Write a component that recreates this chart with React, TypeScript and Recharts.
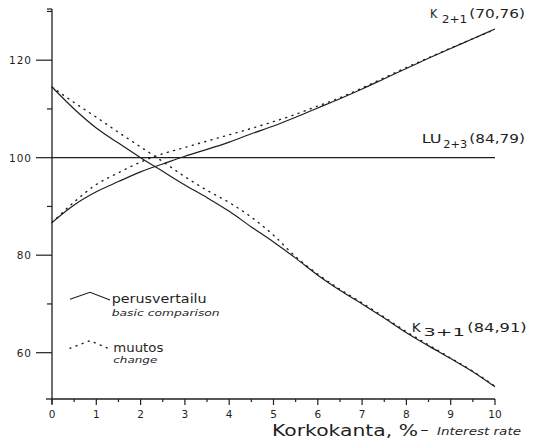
import React from 'react';
import { LineChart, Line, XAxis, YAxis } from 'recharts';

// Interest rate (x) values, %
const interestRates = [0, 0.5, 1, 1.5, 2, 2.5, 3, 3.5, 4, 4.5, 5, 5.5, 6, 6.5, 7, 7.5, 8, 8.5, 9, 9.5, 10];

// K2+1 (70,76)
const k21Basic = [86.7, 90.3, 93.0, 95.1, 97.1, 98.7, 100.3, 101.7, 103.2, 104.9, 106.5, 108.3, 110.2, 112.1, 114.1, 116.2, 118.3, 120.4, 122.4, 124.4, 126.4];
const k21Change = [86.7, 90.9, 94.5, 96.9, 99.1, 100.8, 102.1, 103.4, 104.7, 106.0, 107.4, 108.9, 110.6, 112.3, 114.3, 116.4, 118.5, 120.5, 122.5, 124.4, 126.3];

// K3+1 (84,91)
const k31Basic = [114.5, 110.0, 106.1, 103.0, 100.0, 97.2, 94.4, 91.8, 89.0, 85.8, 82.7, 79.4, 75.9, 72.8, 70.0, 67.1, 64.1, 61.4, 58.8, 56.1, 53.0];
const k31Change = [114.5, 111.3, 108.3, 105.2, 102.2, 99.2, 96.1, 93.3, 90.8, 87.8, 84.1, 79.7, 76.1, 73.0, 70.2, 67.3, 64.3, 61.6, 58.9, 56.2, 53.1];

// LU2+3 (84,79)
const lu23 = [100, 100, 100, 100, 100, 100, 100, 100, 100, 100, 100, 100, 100, 100, 100, 100, 100, 100, 100, 100, 100];

const xTicks = [0, 0.5, 1, 1.5, 2, 2.5, 3, 3.5, 4, 4.5, 5, 5.5, 6, 6.5, 7, 7.5, 8, 8.5, 9, 9.5, 10];
const yTicks = [60, 70, 80, 90, 100, 110, 120, 130];
const yLabelled = [60, 80, 100, 120];

const data = interestRates.map((x, i) => ({
  x,
  k21Basic: k21Basic[i],
  k21Change: k21Change[i],
  k31Basic: k31Basic[i],
  k31Change: k31Change[i],
  lu23: lu23[i],
}));

const INK = '#1f1f1f';
const FONT = '"DejaVu Sans", Verdana, sans-serif';

const YTick = (props: any) => {
  const { x, y, payload } = props;
  const v = payload.value;
  const major = yLabelled.includes(v);
  return (
    <g>
      <line x1={x - (major ? 16 : 5)} x2={x} y1={y} y2={y} stroke={INK} strokeWidth={1.2} />
      {major && (
        <text x={x - 20} y={y} textAnchor="end" dominantBaseline="central" fontSize={10.5} letterSpacing={1} fontFamily={FONT} fill={INK}>
          {v}
        </text>
      )}
    </g>
  );
};

const XTick = (props: any) => {
  const { x, y, payload } = props;
  const v = payload.value;
  const major = Number.isInteger(v);
  return (
    <g>
      <line x1={x} x2={x} y1={y} y2={y + (major ? 6 : 3)} stroke={INK} strokeWidth={1.2} />
      {major && (
        <text x={x} y={y + 15} textAnchor="middle" dominantBaseline="central" fontSize={10.5} fontFamily={FONT} fill={INK}>
          {v}
        </text>
      )}
    </g>
  );
};

const Part = ({ x, y, w, size, children, italic }: any) => (
  <text
    x={x}
    y={y}
    textLength={w}
    lengthAdjust="spacingAndGlyphs"
    fontSize={size}
    fontStyle={italic ? 'italic' : 'normal'}
    fontFamily={FONT}
    fill={INK}
  >
    {children}
  </text>
);

export default function App() {
  return (
    <div style={{ position: 'absolute', left: 0, top: 0, width: 535, height: 445, background: '#fff' }}>
      <LineChart width={535} height={445} data={data} margin={{ top: 9, right: 40, bottom: 16, left: 0 }}>
        <XAxis
          dataKey="x"
          type="number"
          domain={[0, 10]}
          ticks={xTicks}
          interval={0}
          tickSize={0}
          tickMargin={0}
          tickLine={false}
          tick={<XTick />}
          axisLine={{ stroke: INK, strokeWidth: 1.3 }}
          height={30}
        />
        <YAxis
          type="number"
          domain={[50.5, 130.5]}
          ticks={yTicks}
          interval={0}
          tickSize={0}
          tickMargin={0}
          tickLine={false}
          tick={<YTick />}
          axisLine={{ stroke: INK, strokeWidth: 1.3 }}
          width={52}
          allowDataOverflow
        />
        <Line dataKey="lu23" type="linear" stroke={INK} strokeWidth={1.2} dot={false} isAnimationActive={false} />
        <Line dataKey="k21Change" type="monotone" stroke={INK} strokeWidth={1.4} strokeDasharray="1 5.5" strokeLinecap="round" dot={false} isAnimationActive={false} />
        <Line dataKey="k31Change" type="monotone" stroke={INK} strokeWidth={1.4} strokeDasharray="1 5.5" strokeLinecap="round" dot={false} isAnimationActive={false} />
        <Line dataKey="k21Basic" type="monotone" stroke={INK} strokeWidth={1.2} dot={false} isAnimationActive={false} />
        <Line dataKey="k31Basic" type="monotone" stroke={INK} strokeWidth={1.2} dot={false} isAnimationActive={false} />
      </LineChart>
      <svg width={535} height={445} style={{ position: 'absolute', left: 0, top: 0, pointerEvents: 'none' }}>
        {/* axis corner extensions */}
        <line x1={46} x2={52} y1={399} y2={399} stroke={INK} strokeWidth={1.3} />
        <line x1={52} x2={52} y1={399} y2={404} stroke={INK} strokeWidth={1.3} />
        <line x1={47} x2={52} y1={9} y2={9} stroke={INK} strokeWidth={1.2} />

        {/* series labels */}
        <Part x={430} y={18.3} w={7.3} size={11.5}>K</Part>
        <Part x={441.7} y={22.5} w={25.6} size={10}>2+1</Part>
        <Part x={469.3} y={18.3} w={55.7} size={11.5}>(70,76)</Part>

        <Part x={421.7} y={143.3} w={20} size={11.5}>LU</Part>
        <Part x={443.3} y={147.5} w={24} size={10}>2+3</Part>
        <Part x={469.3} y={143.3} w={55.7} size={11.5}>(84,79)</Part>

        <Part x={411.7} y={331.7} w={9} size={11.5}>K</Part>
        <Part x={423.3} y={336} w={41.7} size={10}>3+1</Part>
        <Part x={467.3} y={331.7} w={59.4} size={11.5}>(84,91)</Part>

        {/* legend */}
        <polyline points="70,299.3 90,292.3 110,300" fill="none" stroke={INK} strokeWidth={1.2} />
        <Part x={111.7} y={303.3} w={95} size={12}>perusvertailu</Part>
        <Part x={111.7} y={316} w={108} size={9.5} italic>basic comparison</Part>

        <polyline points="70,348.3 90,340.7 112,350" fill="none" stroke={INK} strokeWidth={1.4} strokeDasharray="1 5.5" strokeLinecap="round" />
        <Part x={113.3} y={351.7} w={50} size={12}>muutos</Part>
        <Part x={113.3} y={362.7} w={44} size={9.5} italic>change</Part>

        {/* x-axis title */}
        <Part x={272} y={435.5} w={146} size={15}>Korkokanta, %</Part>
        <Part x={420} y={434} w={9} size={13}>-</Part>
        <Part x={437} y={434.5} w={84} size={11} italic>Interest rate</Part>
      </svg>
    </div>
  );
}
